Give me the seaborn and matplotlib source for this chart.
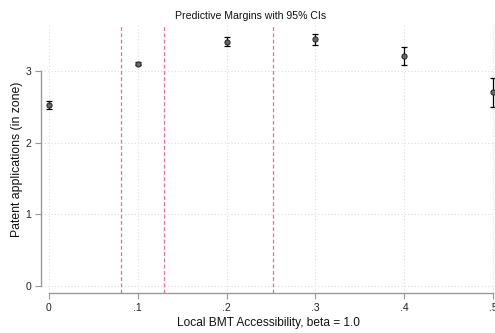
import matplotlib
matplotlib.use("Agg")
import matplotlib.pyplot as plt
import seaborn as sns
import pandas as pd

# Data
accessibility = [0.0, 0.1, 0.2, 0.3, 0.4, 0.5]
margins = [2.52, 3.10, 3.40, 3.44, 3.20, 2.70]
ci_low = [2.47, 3.08, 3.34, 3.36, 3.08, 2.49]
ci_high = [2.58, 3.12, 3.47, 3.52, 3.33, 2.90]
ref_lines = [0.081, 0.129, 0.252]
x_ticks = [0.0, 0.1, 0.2, 0.3, 0.4, 0.5]
x_ticklabels = ["0", ".1", ".2", ".3", ".4", ".5"]
y_ticks = [0, 1, 2, 3]

sns.set_style("white")
plt.rcParams['font.family'] = ['Liberation Sans', 'DejaVu Sans']

df = pd.DataFrame({"x": accessibility, "m": margins, "lo": ci_low, "hi": ci_high})

fig = plt.figure(figsize=(4.95, 3.33), dpi=100)
ax = fig.add_axes([41/495, 40/333, 454/495, 268/333])

# grid
for xt in x_ticks:
    ax.axvline(xt, color="#dedede", lw=0.8, ls=(0, (1, 2)), zorder=0)
for yt in y_ticks:
    ax.axhline(yt, color="#dedede", lw=0.8, ls=(0, (1, 2)), zorder=0)

for xv in ref_lines:
    ax.axvline(xv, color="#e56ba0", lw=0.9, ls=(0, (3, 2)), zorder=1)

ax.errorbar(df["x"], df["m"], yerr=[df["m"] - df["lo"], df["hi"] - df["m"]],
            fmt="none", ecolor="black", elinewidth=0.9, capsize=2.0, capthick=0.9, zorder=2)
sns.scatterplot(data=df, x="x", y="m", ax=ax, s=14, color="#666666",
                edgecolor="#222222", linewidth=0.7, zorder=3)

ax.set_xlim(-8/889, 0.5 + 2/889)
ax.set_ylim(-7/72, 3 + 46/72)
ax.set_xticks(x_ticks)
ax.set_xticklabels(x_ticklabels)
ax.set_yticks(y_ticks)
ax.set_yticklabels([str(v) for v in y_ticks])

for s in ["top", "right"]:
    ax.spines[s].set_visible(False)
ax.spines["left"].set_bounds(0, 3)
ax.spines["bottom"].set_bounds(0, 0.5)
for s in ["left", "bottom"]:
    ax.spines[s].set_color("#999999")
    ax.spines[s].set_linewidth(1.0)

ax.tick_params(axis="both", direction="out", length=4, width=0.8, color="#999999",
               labelsize=7.5, labelcolor="#222222", pad=3, bottom=True, left=True)

ax.set_xlabel("Local BMT Accessibility, beta = 1.0", fontsize=8.6, color="#111111", labelpad=3)
ax.set_ylabel("Patent applications (in zone)", fontsize=8.8, color="#111111", labelpad=2)
ax.set_title("Predictive Margins with 95% CIs", fontsize=7.6, color="#111111", pad=4,
             x=(251 - 41) / 454)

fig.savefig("out.png", dpi=100)
